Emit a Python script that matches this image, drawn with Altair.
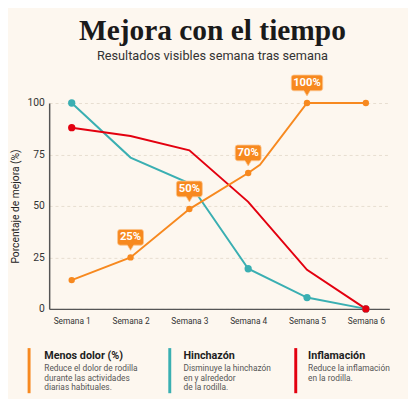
import altair as alt
import pandas as pd

# ---------------- data ----------------
weeks = [1, 2, 3, 4, 5, 6]
week_labels = ["Semana 1", "Semana 2", "Semana 3", "Semana 4", "Semana 5", "Semana 6"]

dolor_x = [1, 2, 3, 4, 4.2, 5, 6]
dolor_y = [14, 25, 48.5, 66, 70, 100, 100]
dolor_marker_x = [1, 2, 3, 4, 5, 6]
dolor_marker_y = [14, 25, 48.5, 66, 100, 100]

hinch_x = [1, 2, 3, 4, 5, 6]
hinch_y = [100, 73.5, 61, 19.5, 5.5, 0]
hinch_marker_x = [1, 4, 5, 6]
hinch_marker_y = [100, 19.5, 5.5, 0]

infl_x = [1, 2, 3, 4, 5, 6]
infl_y = [88, 84, 77, 52, 19, 0]
infl_marker_x = [1, 6]
infl_marker_y = [88, 0]

callout_x = [2, 3, 4, 5]
callout_y = [25, 48.5, 66, 100]
callout_text = ["25%", "50%", "70%", "100%"]

series_names = ["Menos dolor (%)", "Hinchazón", "Inflamación"]
series_colors = ["#F7891F", "#3AAFB2", "#E3000F"]
series_desc = [
    "Reduce el dolor de rodilla\ndurante las actividades\ndiarias habituales.",
    "Disminuye la hinchazón\nen y alrededor\nde la rodilla.",
    "Reduce la inflamación\nen la rodilla.",
]

title_text = "Mejora con el tiempo"
subtitle_text = "Resultados visibles semana tras semana"
y_title = "Porcentaje de mejora (%)"

# ---------------- layout (pixels, relative to plot area) ----------------
W, H = 347, 210
legend_bar_x = [-20.5, 123, 251.5]
legend_text_x = [-5, 137, 264]
legend_bar_y = (250, 296)
legend_title_y = 261.5
legend_desc_y = 273.5

BG = "#FDF7EF"


def box_path(hw):
    r = 0.25
    top, bot = -2.85, -1.25
    return (
        f"M {-hw + r},{top} L {hw - r},{top} Q {hw},{top} {hw},{top + r} "
        f"L {hw},{bot - r} Q {hw},{bot} {hw - r},{bot} "
        f"L 0.32,{bot} L 0,-0.72 L -0.32,{bot} "
        f"L {-hw + r},{bot} Q {-hw},{bot} {-hw},{bot - r} "
        f"L {-hw},{top + r} Q {-hw},{top} {-hw + r},{top} Z"
    )


def make_df(xs, ys, name):
    return pd.DataFrame({"week": xs, "value": ys, "serie": name})


lines_df = pd.concat([
    make_df(dolor_x, dolor_y, series_names[0]),
    make_df(hinch_x, hinch_y, series_names[1]),
    make_df(infl_x, infl_y, series_names[2]),
])

xscale = alt.Scale(domain=[0.617, 6.4], nice=False, zero=False)
yscale = alt.Scale(domain=[0, 100], nice=False)
cscale = alt.Scale(domain=series_names, range=series_colors)

x_enc = alt.X(
    "week:Q", scale=xscale, title=None,
    axis=alt.Axis(values=weeks, labelExpr="'Semana ' + datum.value", grid=False,
                  ticks=False, labelPadding=8, labelFontSize=8.5, labelColor="#333",
                  labelFont="Roboto", domainColor="#555", domainWidth=1.5),
)
y_enc = alt.Y(
    "value:Q", scale=yscale, title=y_title,
    axis=alt.Axis(values=[0, 25, 50, 75, 100], ticks=False, labelPadding=5,
                  labelFontSize=10.5, labelColor="#333", labelFont="Roboto",
                  titleFont="Roboto", titleFontSize=10.5, titleFontWeight="normal",
                  titleColor="#222", titlePadding=7, grid=True, gridDash=[3, 3],
                  gridColor="#E6DDD0", domainColor="#555", domainWidth=1.5),
)

base_layers = []
for name in [series_names[1], series_names[2], series_names[0]]:
    d = lines_df[lines_df.serie == name]
    base_layers.append(
        alt.Chart(d).mark_line(strokeWidth=2).encode(
            x=x_enc, y=y_enc,
            color=alt.Color("serie:N", scale=cscale, legend=None),
        )
    )

marker_layers = [
    alt.Chart(make_df(hinch_marker_x, hinch_marker_y, series_names[1])).mark_point(
        filled=True, size=55, opacity=1).encode(
        x="week:Q", y="value:Q", color=alt.Color("serie:N", scale=cscale, legend=None)),
    alt.Chart(make_df(infl_marker_x, infl_marker_y, series_names[2])).mark_point(
        filled=True, size=55, opacity=1).encode(
        x="week:Q", y="value:Q", color=alt.Color("serie:N", scale=cscale, legend=None)),
    alt.Chart(make_df(dolor_marker_x, dolor_marker_y, series_names[0])).mark_point(
        filled=True, size=42, opacity=1).encode(
        x="week:Q", y="value:Q", color=alt.Color("serie:N", scale=cscale, legend=None)),
]

callout_df = pd.DataFrame({
    "week": callout_x, "value": callout_y, "label": callout_text,
    "shape": [box_path(1.6 if len(t) > 3 else 1.32) for t in callout_text],
})
callout_boxes = alt.Chart(callout_df).mark_point(
    filled=True, size=400, opacity=1, color=series_colors[0],
    stroke="#FBC48C", strokeWidth=0.8, strokeOpacity=1,
).encode(x="week:Q", y="value:Q", shape=alt.Shape("shape:N", scale=None, legend=None))
callout_text_layer = alt.Chart(callout_df).mark_text(
    dy=-20.5, color="white", fontWeight="bold", fontSize=11.5, font="Roboto",
    baseline="middle", align="center",
).encode(x="week:Q", y="value:Q", text="label:N")

legend_layers = []
for i, name in enumerate(series_names):
    one = pd.DataFrame({"name": [name], "desc": [series_desc[i]]})
    legend_layers.append(
        alt.Chart(one).mark_rule(color=series_colors[i], strokeWidth=3).encode(
            x=alt.value(legend_bar_x[i]), y=alt.value(legend_bar_y[0]),
            y2=alt.value(legend_bar_y[1]))
    )
    legend_layers.append(
        alt.Chart(one).mark_text(align="left", baseline="alphabetic", fontSize=11,
                                 fontWeight="bold", font="Roboto", color="#1E1E1E").encode(
            x=alt.value(legend_text_x[i]), y=alt.value(legend_title_y), text="name:N")
    )
    legend_layers.append(
        alt.Chart(one).mark_text(align="left", baseline="alphabetic", fontSize=8.5,
                                 font="Roboto", color="#555", lineBreak="\n",
                                 lineHeight=9.6).encode(
            x=alt.value(legend_text_x[i]), y=alt.value(legend_desc_y), text="desc:N")
    )

chart = alt.layer(
    *base_layers, *marker_layers, callout_boxes, callout_text_layer, *legend_layers
).properties(
    width=W, height=H,
    title=alt.TitleParams(
        title_text, subtitle=subtitle_text, anchor="middle", frame="group", dx=-7,
        font="Liberation Serif", fontSize=30, fontWeight="bold", color="#1A1A1A",
        subtitleFont="Roboto", subtitleFontSize=13, subtitleColor="#333",
        subtitlePadding=4, offset=11,
    ),
    autosize=alt.AutoSizeParams(type="none"),
    padding={"left": 42, "top": 93, "right": 19, "bottom": 88},
    background=BG,
).configure_view(stroke=None)

chart.save("out.html", embed_options={"renderer": "svg", "actions": False})
